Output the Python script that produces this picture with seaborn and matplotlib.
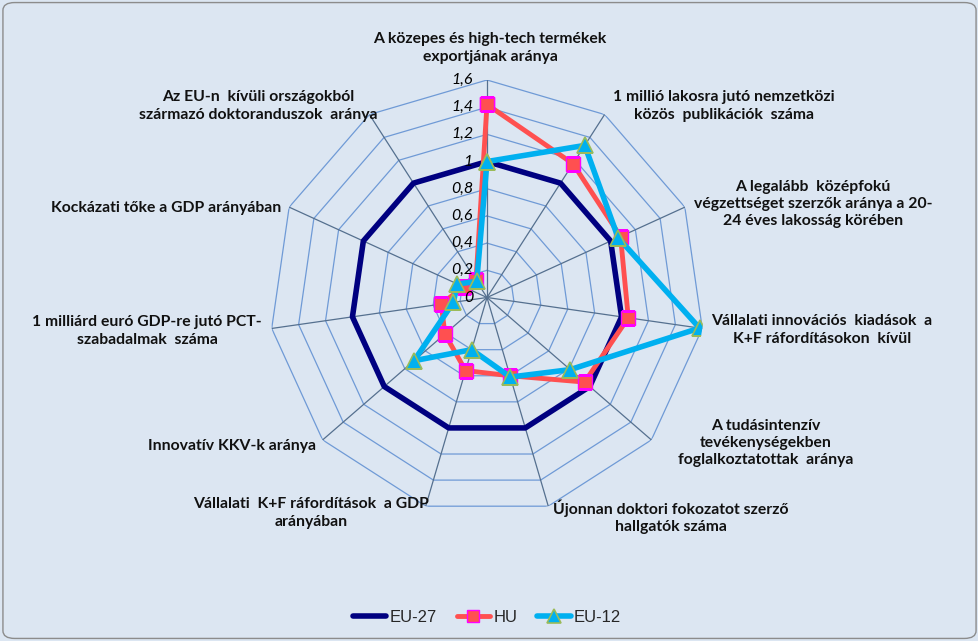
import numpy as np
import pandas as pd
import matplotlib
matplotlib.use("Agg")
import matplotlib.pyplot as plt
import matplotlib.transforms as mtransforms
from matplotlib.patches import FancyBboxPatch
import seaborn as sns

CATEGORIES = [
    "A közepes és high-tech termékek\nexportjának aránya",
    "1 millió lakosra jutó nemzetközi\nközös  publikációk  száma",
    "A legalább  középfokú\nvégzettséget szerzők aránya a 20-\n24 éves lakosság körében",
    "Vállalati innovációs  kiadások  a\nK+F ráfordításokon  kívül",
    "A tudásintenzív\ntevékenységekben\nfoglalkoztatottak  aránya",
    "Újonnan doktori fokozatot szerző\nhallgatók száma",
    "Vállalati  K+F ráfordítások  a GDP\narányában",
    "Innovatív KKV-k aránya",
    "1 milliárd euró GDP-re jutó PCT-\nszabadalmak  száma",
    "Kockázati tőke a GDP arányában",
    "Az EU-n  kívüli országokból\nszármazó doktoranduszok  aránya",
]
EU27 = [1, 1, 1, 1, 1, 1, 1, 1, 1, 1, 1]
HU = [1.42, 1.17, 1.08, 1.05, 0.95, 0.60, 0.56, 0.41, 0.34, 0.19, 0.15]
EU12 = [1.0, 1.33, 1.06, 1.58, 0.81, 0.61, 0.40, 0.71, 0.25, 0.24, 0.14]
SERIES = ["EU-27", "HU", "EU-12"]
TICKS = [0, 0.2, 0.4, 0.6, 0.8, 1.0, 1.2, 1.4, 1.6]
TICK_LABELS = ["0", "0,2", "0,4", "0,6", "0,8", "1", "1,2", "1,4", "1,6"]

# label centres in pixels (x, y from top)
LABEL_POS = [(490, 48), (724, 106), (813, 204), (822, 330), (766, 443),
             (671, 517), (311, 513), (232, 446), (147, 331), (166, 208),
             (258, 106)]

BG = "#dce6f2"
W, H = 979, 641


def main():
    sns.set_style("white")
    plt.rcParams["font.family"] = ["Lato", "DejaVu Sans"]

    n = len(CATEGORIES)
    theta = np.linspace(0, 2 * np.pi, n, endpoint=False)
    theta_closed = np.append(theta, 2 * np.pi)

    rows = []
    for name, vals in zip(SERIES, [EU27, HU, EU12]):
        vals_closed = list(vals) + [vals[0]]
        for t, v in zip(theta_closed, vals_closed):
            rows.append({"series": name, "theta": t, "value": v})
    df = pd.DataFrame(rows)

    fig = plt.figure(figsize=(W / 100, H / 100), dpi=100)
    fig.patch.set_facecolor(BG)
    cx, cy, R = 487, 297.5, 217.5
    ax = fig.add_axes([(cx - R) / W, (H - cy - R) / H, 2 * R / W, 2 * R / H],
                      projection="polar")
    ax.set_facecolor("none")
    ax.set_theta_zero_location("N")
    ax.set_theta_direction(-1)
    ax.set_ylim(0, 1.6)
    ax.grid(False)
    ax.spines["polar"].set_visible(False)
    ax.set_xticks([])
    ax.set_yticks([])

    # polygon grid
    for lvl in TICKS[1:]:
        ax.plot(theta_closed, [lvl] * (n + 1), color="#6f9ad6", lw=0.9, zorder=1)
    for t in theta:
        ax.plot([t, t], [0, 1.6], color="#55708f", lw=0.9, zorder=1)

    styles = {
        "EU-27": dict(color="#000080", lw=4.0, marker=None),
        "HU": dict(color="#ff5050", lw=3.5, marker="s", markersize=10,
                   markerfacecolor="#ff5050", markeredgecolor="#ff00ff",
                   markeredgewidth=1.0),
        "EU-12": dict(color="#00b0f0", lw=4.0, marker="^", markersize=12,
                      markerfacecolor="#00b0f0", markeredgecolor="#9bbb59",
                      markeredgewidth=1.2),
    }
    for name in SERIES:
        sub = df[df["series"] == name]
        sns.lineplot(data=sub, x="theta", y="value", sort=False, estimator=None,
                     ax=ax, label=name, zorder=3, **styles[name])
    ax.set_xlabel("")
    ax.set_ylabel("")
    handles, labels = ax.get_legend_handles_labels()
    ax.get_legend().remove()

    # radial tick labels on the top axis
    off = mtransforms.offset_copy(ax.transData, fig=fig, x=-14, y=0, units="dots")
    for r, lab in zip(TICKS, TICK_LABELS):
        ax.text(0, r, lab, transform=off, ha="right", va="center",
                fontsize=11.5, style="italic", color="black", zorder=4)

    for lab, (x, y) in zip(CATEGORIES, LABEL_POS):
        fig.text(x / W, 1 - y / H, lab, ha="center", va="center",
                 fontsize=11.3, fontweight="bold", color="#111111",
                 linespacing=1.3, multialignment="center")

    fig.legend(handles, labels, loc="center", bbox_to_anchor=(487 / W, 1 - 617 / H),
               ncol=3, frameon=False, handlelength=2.0, handletextpad=0.2,
               columnspacing=1.2, markerscale=0.85,
               prop={"family": "Liberation Sans", "size": 12})

    border = FancyBboxPatch((0.003, 0.004), 0.994, 0.992,
                            boxstyle="round,pad=0,rounding_size=0.012",
                            transform=fig.transFigure, facecolor="none",
                            edgecolor="#8c8c8c", lw=1.0)
    fig.patches.append(border)

    fig.savefig("out.png", dpi=100, facecolor=BG)
    plt.close(fig)


if __name__ == "__main__":
    main()
